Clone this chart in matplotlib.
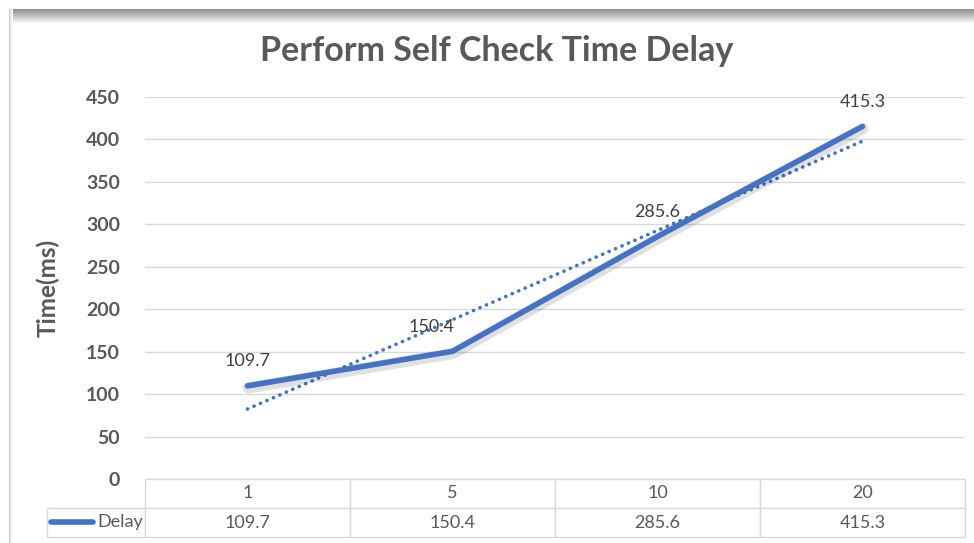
import numpy as np
import matplotlib
matplotlib.use("Agg")
import matplotlib.pyplot as plt
import matplotlib.patheffects as pe
from matplotlib.lines import Line2D

# data
categories = ["1", "5", "10", "20"]
delay = [109.7, 150.4, 285.6, 415.3]
series_name = "Delay"
y_ticks = [0, 50, 100, 150, 200, 250, 300, 350, 400, 450]

plt.rcParams['font.family'] = ['Lato', 'DejaVu Sans']
GRAY = "#595959"
BLUE = "#4472C4"

fig = plt.figure(figsize=(9.74, 5.43), dpi=100)

# frame shadow at top and left edge
top = fig.add_axes([9 / 974, 1 - 24 / 543, 1 - 9 / 974, 15 / 543])
grad = np.linspace(0.55, 1.0, 50).reshape(-1, 1)
top.imshow(grad, aspect="auto", cmap="gray", vmin=0, vmax=1, extent=[0, 1, 0, 1], origin="upper")
top.axis("off")
left = fig.add_axes([9 / 974, 0, 4 / 974, 1 - 9 / 543])
left.imshow(np.array([[0.8, 0.88, 0.95, 1.0]]), aspect="auto", cmap="gray", vmin=0, vmax=1)
left.axis("off")

ax = fig.add_axes([145 / 974, 1 - 479 / 543, 820 / 974, 382 / 543])
x = np.arange(len(categories)) + 0.5

# linear trendline like Excel (x = 1..n)
k, b = np.polyfit(np.arange(1, len(delay) + 1), delay, 1)
trend = k * np.arange(1, len(delay) + 1) + b
ax.plot(x, trend, color=BLUE, lw=2.6, linestyle=(0, (0.05, 1.9)),
        dash_capstyle="round", zorder=3)

ax.plot(x, delay, color=BLUE, lw=4, solid_capstyle="round", zorder=4,
        path_effects=[pe.SimpleLineShadow(offset=(0.5, -1.5), shadow_color="black",
                                          alpha=0.12, linewidth=8),
                      pe.Normal()])

label_dx = [0, -0.1, 0, 0]
for xi, v, dx in zip(x, delay, label_dx):
    ax.annotate(f"{v}", (xi + dx, v), xytext=(0, 12), textcoords="offset points",
                ha="center", va="bottom", fontsize=13, color="#404040", zorder=5)

ax.set_xlim(0, len(categories))
ax.set_ylim(0, 450)
ax.set_yticks(y_ticks)
ax.set_xticks([])
ax.grid(axis="y", color="#d9d9d9", lw=1)
ax.set_axisbelow(True)
for s in ax.spines.values():
    s.set_visible(False)
ax.tick_params(axis="y", length=0, pad=18, labelsize=14, labelcolor=GRAY)
for t in ax.get_yticklabels():
    t.set_fontweight("bold")

ax.set_ylabel("Time(ms)", fontsize=17.5, fontweight="bold", color=GRAY)
ax.yaxis.set_label_coords(-(145 - 60) / 820, 0.5)

fig.text(497 / 974, 1 - 51 / 543, "Perform Self Check Time Delay", ha="center", va="center",
         fontsize=24.5, fontweight="bold", color=GRAY)

# data table under the plot
cell_text = [[""] + categories, [series_name] + [f"{v}" for v in delay]]
col_w = [98] + [205] * len(categories)
tbl = ax.table(cellText=cell_text, colWidths=[w / sum(col_w) for w in col_w],
               cellLoc="center", bbox=[-98 / 820, -58 / 382, 918 / 820, 58 / 382])
tbl.auto_set_font_size(False)
for (r, c), cell in tbl.get_celld().items():
    cell.set_edgecolor("#d9d9d9")
    cell.set_linewidth(1)
    cell.get_text().set_fontsize(13)
    cell.get_text().set_color(GRAY)
tbl[0, 0].visible_edges = ""
tbl[1, 0].get_text().set_ha("right")
tbl[1, 0]._loc = "right"
tbl[1, 0].PAD = 0.02

# legend key inside the table
ax.add_line(Line2D([-0.115, -0.063], [-43 / 382, -43 / 382], transform=ax.transAxes,
                   color=BLUE, lw=4, solid_capstyle="round", clip_on=False))

fig.savefig("out.png", dpi=100)
